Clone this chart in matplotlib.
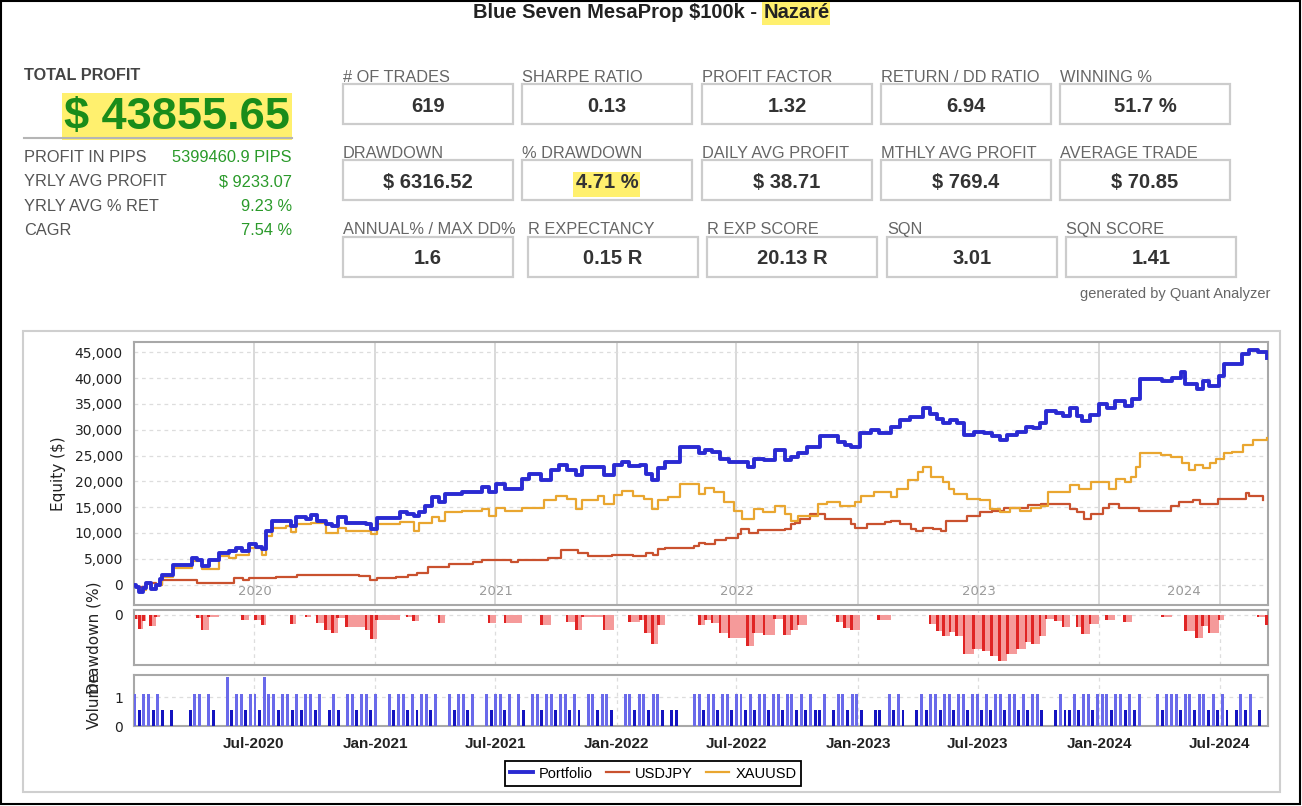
import matplotlib
matplotlib.use("Agg")
import matplotlib.pyplot as plt
import matplotlib.dates as mdates
from matplotlib.patches import Rectangle
from matplotlib.lines import Line2D
from matplotlib.ticker import FuncFormatter
import numpy as np
import pandas as pd

plt.rcParams['font.family'] = ['Liberation Sans', 'DejaVu Sans']

# ---- stats (from the report header) ----
title_main = "Blue Seven MesaProp $100k -"
title_name = "Nazaré"
total_profit = "$ 43855.65"
side_labels = ["PROFIT IN PIPS", "YRLY AVG PROFIT", "YRLY AVG % RET", "CAGR"]
side_values = ["5399460.9 PIPS", "$ 9233.07", "9.23 %", "7.54 %"]
box_labels = [
    ["# OF TRADES", "SHARPE RATIO", "PROFIT FACTOR", "RETURN / DD RATIO", "WINNING %"],
    ["DRAWDOWN", "% DRAWDOWN", "DAILY AVG PROFIT", "MTHLY AVG PROFIT", "AVERAGE TRADE"],
    ["ANNUAL% / MAX DD%", "R EXPECTANCY", "R EXP SCORE", "SQN", "SQN SCORE"],
]
box_values = [
    ["619", "0.13", "1.32", "6.94", "51.7 %"],
    ["$ 6316.52", "4.71 %", "$ 38.71", "$ 769.4", "$ 70.85"],
    ["1.6", "0.15 R", "20.13 R", "3.01", "1.41"],
]

# ---- equity curves ----
start_capital = 100000
port_dates = [
    '2020-01-02', '2020-01-05', '2020-01-10', '2020-01-16', '2020-01-20', '2020-01-27', '2020-02-04',
    '2020-02-10', '2020-02-14', '2020-03-01', '2020-03-30', '2020-04-07', '2020-04-14', '2020-04-24',
    '2020-05-09', '2020-05-24', '2020-06-04', '2020-06-14', '2020-06-24', '2020-07-04', '2020-07-14',
    '2020-07-19', '2020-07-29', '2020-08-27', '2020-09-03', '2020-09-18', '2020-09-26', '2020-10-05',
    '2020-10-18', '2020-10-28', '2020-11-05', '2020-11-18', '2020-12-18', '2020-12-26',
    '2021-01-03', '2021-02-08', '2021-02-18', '2021-02-28', '2021-03-08', '2021-03-17', '2021-03-28',
    '2021-04-07', '2021-04-17', '2021-05-12', '2021-06-12', '2021-06-22', '2021-07-02', '2021-07-16',
    '2021-08-11', '2021-08-21', '2021-09-09', '2021-09-24', '2021-10-06', '2021-10-18', '2021-11-01',
    '2021-11-10', '2021-12-13', '2021-12-28',
    '2022-01-09', '2022-01-20', '2022-02-06', '2022-02-14', '2022-02-24', '2022-03-05', '2022-03-15',
    '2022-04-06', '2022-05-06', '2022-05-15', '2022-05-25', '2022-06-06', '2022-06-20', '2022-07-18',
    '2022-07-27', '2022-08-12', '2022-08-28', '2022-09-12', '2022-09-22', '2022-10-02', '2022-10-16',
    '2022-11-04', '2022-12-01', '2022-12-12', '2022-12-22',
    '2023-01-04', '2023-01-20', '2023-02-01', '2023-02-20', '2023-03-05', '2023-03-20', '2023-04-09',
    '2023-04-20', '2023-05-01', '2023-05-10', '2023-05-20', '2023-05-30', '2023-06-10', '2023-06-25',
    '2023-07-10', '2023-07-22', '2023-08-03', '2023-08-15', '2023-08-30', '2023-09-12', '2023-09-22',
    '2023-10-03', '2023-10-12', '2023-10-27', '2023-11-07', '2023-11-18', '2023-11-28', '2023-12-06',
    '2023-12-18',
    '2024-01-01', '2024-01-12', '2024-01-25', '2024-02-08', '2024-02-20', '2024-03-03', '2024-04-05',
    '2024-04-20', '2024-05-03', '2024-05-10', '2024-05-27', '2024-06-05', '2024-06-15', '2024-06-30',
    '2024-07-08', '2024-08-04', '2024-08-15', '2024-08-28', '2024-09-10',
]
port_equity = [
    0, -450, -1400, -600, 200, -900, 0,
    1000, 1900, 3800, 5100, 4700, 3500, 4800,
    6100, 6400, 7100, 6500, 7900, 7300, 6800,
    10300, 12300, 11300, 13000, 12700, 13400, 12400,
    11700, 11300, 13000, 12000, 11700, 10700,
    12800, 14000, 13700, 13300, 14000, 15300, 16900,
    15900, 17500, 18000, 18900, 17900, 19500, 18500,
    20500, 21500, 20200, 22100, 23100, 22200, 21200,
    22800, 21200, 23100,
    23800, 22900, 23100, 21500, 20200, 22500, 23800,
    26700, 25400, 26000, 25700, 24400, 23800, 22800,
    24400, 24100, 26100, 24100, 24700, 25400, 26700,
    28700, 27700, 27000, 26700,
    29300, 30000, 29300, 30500, 31900, 32500, 34200,
    33000, 32000, 31300, 31900, 31300, 29000, 29600,
    29300, 28700, 28000, 29000, 29600, 30600, 30300,
    31300, 33600, 33300, 32600, 34200, 32600, 31600,
    32900,
    34900, 34200, 35600, 34600, 36000, 39800, 39500,
    40100, 41100, 38800, 37800, 39500, 38500, 40400,
    42700, 44700, 45400, 45000, 43900,
]

jpy_dates = [
    '2020-01-02', '2020-01-05', '2020-01-20', '2020-02-04', '2020-02-14', '2020-04-06', '2020-06-01',
    '2020-06-15', '2020-06-24', '2020-08-03', '2020-09-05', '2020-12-07', '2020-12-24',
    '2021-01-03', '2021-02-01', '2021-02-20', '2021-03-05', '2021-03-22', '2021-04-22', '2021-05-29',
    '2021-06-12', '2021-07-25', '2021-08-05', '2021-09-19', '2021-10-09', '2021-11-04', '2021-11-19',
    '2021-12-25',
    '2022-01-25', '2022-02-15', '2022-02-25', '2022-03-04', '2022-03-15', '2022-04-28', '2022-05-05',
    '2022-05-15', '2022-05-29', '2022-06-15', '2022-07-03', '2022-07-08', '2022-07-20', '2022-08-03',
    '2022-09-12', '2022-09-22', '2022-09-28', '2022-10-05', '2022-10-20', '2022-11-12', '2022-12-22',
    '2022-12-27',
    '2023-01-15', '2023-02-11', '2023-02-20', '2023-03-05', '2023-03-22', '2023-03-30', '2023-04-09',
    '2023-04-25', '2023-05-07', '2023-05-14', '2023-06-15', '2023-07-04', '2023-07-22', '2023-08-09',
    '2023-09-15', '2023-10-04', '2023-11-03', '2023-11-18', '2023-11-28', '2023-12-09', '2023-12-20',
    '2024-01-06', '2024-01-16', '2024-01-31', '2024-03-01', '2024-04-19', '2024-05-01', '2024-05-22',
    '2024-06-01', '2024-06-29', '2024-08-09', '2024-08-15', '2024-09-05',
]
jpy_equity = [
    0, -400, 200, 0, 900, 200, 1200,
    900, 1200, 1500, 1800, 1700, 900,
    1200, 1400, 1900, 2200, 3400, 4000, 4300,
    4800, 4300, 4800, 5100, 6600, 6100, 5500,
    5800,
    5600, 6100, 5800, 6800, 7100, 7500, 8000,
    7800, 8700, 9100, 9700, 10700, 10000, 10600,
    10800, 11700, 12000, 12700, 13600, 12700, 11700,
    11000,
    11700, 12200, 12300, 11700, 10700, 10400, 11000,
    10700, 10400, 12300, 13300, 14000, 14300, 14900,
    15400, 15700, 15600, 14600, 14000, 12700, 13600,
    14900, 15600, 14900, 14300, 15300, 15900, 16300,
    15600, 16600, 17700, 17200, 16300,
]

xau_dates = [
    '2020-01-02', '2020-01-05', '2020-01-10', '2020-01-20', '2020-01-27', '2020-02-04', '2020-02-14',
    '2020-03-01', '2020-03-30', '2020-04-14', '2020-05-09', '2020-05-24', '2020-06-04', '2020-06-24',
    '2020-07-14', '2020-07-19', '2020-07-29', '2020-08-19', '2020-08-27', '2020-09-03', '2020-09-26',
    '2020-10-18', '2020-11-05', '2020-11-18', '2020-12-26',
    '2021-01-03', '2021-02-08', '2021-02-28', '2021-03-08', '2021-03-28', '2021-04-07', '2021-04-17',
    '2021-05-12', '2021-06-12', '2021-06-22', '2021-07-02', '2021-07-16', '2021-08-11', '2021-09-13',
    '2021-10-01', '2021-10-18', '2021-11-01', '2021-11-10', '2021-12-04', '2021-12-13', '2021-12-28',
    '2022-01-09', '2022-01-25', '2022-02-11', '2022-02-24', '2022-03-05', '2022-03-20', '2022-04-06',
    '2022-05-06', '2022-05-15', '2022-05-28', '2022-06-13', '2022-06-28', '2022-07-10', '2022-07-27',
    '2022-08-10', '2022-08-29', '2022-09-12', '2022-09-22', '2022-10-02', '2022-11-01', '2022-11-15',
    '2022-12-05', '2022-12-27',
    '2023-01-06', '2023-01-25', '2023-02-20', '2023-03-01', '2023-03-18', '2023-04-01', '2023-04-09',
    '2023-04-22', '2023-05-10', '2023-05-18', '2023-05-26', '2023-06-15', '2023-07-04', '2023-07-20',
    '2023-08-04', '2023-08-19', '2023-09-03', '2023-09-19', '2023-10-04', '2023-10-15', '2023-11-18',
    '2023-12-01', '2023-12-20',
    '2024-01-16', '2024-01-26', '2024-02-08', '2024-02-18', '2024-02-25', '2024-03-03', '2024-04-03',
    '2024-04-19', '2024-05-05', '2024-05-15', '2024-05-25', '2024-06-06', '2024-06-16', '2024-06-26',
    '2024-07-07', '2024-07-20', '2024-08-05', '2024-08-20', '2024-09-10',
]
xau_equity = [
    0, -400, -1000, 100, -800, 0, 1500,
    3200, 4500, 3000, 5500, 5200, 5800, 7100,
    5800, 9400, 11000, 11300, 10200, 11700, 12000,
    10000, 11000, 10400, 9700,
    11700, 12100, 10400, 12000, 13000, 12300, 14000,
    14300, 14600, 13300, 14900, 14300, 14900, 16300,
    17200, 16600, 14600, 16300, 17200, 15600, 17400,
    18200, 17200, 16600, 14600, 16300, 16900, 19400,
    17600, 18800, 17900, 15900, 14300, 12700, 14600,
    14000, 15300, 13600, 12300, 13300, 15600, 15900,
    15300, 15900,
    17200, 17900, 16900, 18500, 20200, 21800, 22800,
    20800, 19800, 18500, 17600, 16600, 16300, 14600,
    14000, 14900, 14300, 14900, 15300, 17900, 19200,
    18500, 19800,
    18500, 20500, 19800, 20800, 22800, 25400, 25100,
    24700, 23500, 22100, 23100, 22500, 23500, 24400,
    25400, 25700, 27000, 28000, 28300,
]

# weekly traded lots (0 = no trade that week), weeks starting 2020-01-03
vol_start = '2020-01-03'
vol_week_lots = [
    1.1, 0.55, 1.1, 1.1, 0.55, 1.1, 0.55, 0, 0.55, 0,
    0, 0, 0.55, 1.1, 1.1, 0, 1.1, 0.55, 0, 0,
    1.7, 0.55, 1.1, 1.1, 0.55, 1.1, 1.1, 0.55, 1.7, 1.1,
    1.1, 0.55, 1.1, 1.1, 0.55, 1.1, 0.55, 1.1, 1.1, 0.55,
    1.1, 0, 0.55, 1.1, 0.55, 0, 1.1, 1.1, 0.55, 1.1,
    1.1, 0.55, 1.1, 0, 0, 1.1, 0.55, 1.1, 1.1, 0.55,
    1.1, 0.55, 1.1, 1.1, 0.55, 1.1, 0, 0, 1.1, 0.55,
    1.1, 1.1, 0.55, 1.1, 0, 0, 1.1, 0.55, 1.1, 1.1,
    0.55, 1.1, 0, 1.1, 0.55, 0, 1.1, 1.1, 0.55, 1.1,
    1.1, 0.55, 1.1, 1.1, 0.55, 1.1, 0.55, 0, 1.1, 1.1,
    0.55, 1.1, 1.1, 0.55, 0, 0, 1.1, 1.1, 0.55, 1.1,
    1.1, 0.55, 1.1, 1.1, 0.55, 0, 0.55, 0.55, 0, 0,
    0, 1.1, 1.1, 0.55, 1.1, 1.1, 0.55, 1.1, 1.1, 0.55,
    1.1, 1.1, 0.55, 1.1, 0.55, 1.1, 1.1, 0.55, 1.1, 1.1,
    0.55, 1.1, 1.1, 0.55, 1.1, 0.55, 1.1, 0.55, 0.55, 1.1,
    0, 0.55, 1.1, 1.1, 0.55, 1.1, 1.1, 0.55, 0, 0,
    0.55, 0.55, 0, 1.1, 0.55, 1.1, 0.55, 0, 0, 0.55,
    1.1, 0.55, 1.1, 1.1, 0.55, 1.1, 1.1, 0.55, 1.1, 1.1,
    0.55, 1.1, 1.1, 0.55, 1.1, 0.55, 1.1, 1.1, 0.55, 1.1,
    1.1, 0.55, 1.1, 0.55, 1.1, 1.1, 0.55, 0, 0, 0.55,
    1.1, 0.55, 0.55, 1.1, 0.55, 1.1, 1.1, 0.55, 1.1, 1.1,
    1.1, 0.55, 1.1, 1.1, 0.55, 1.1, 0.55, 1.1, 0, 0,
    0, 1.1, 0.55, 1.1, 1.1, 1.1, 0.55, 1.1, 1.1, 0.55,
    1.1, 1.1, 0.55, 1.1, 0.55, 1.1, 0.55, 0, 0.55, 1.1,
    0.55, 1.1, 0, 0.55, 0,
]

series_names = ["Portfolio", "USDJPY", "XAUUSD"]
series_colors = ["#2a2ad2", "#c9512e", "#e9a630"]

# ---- figure helpers (pixel layout) ----
W, H = 1302, 806
fig = plt.figure(figsize=(W / 100, H / 100), dpi=100)


def T(x, y, s, **kw):
    return fig.text(x / W, 1 - y / H, s, **kw)


def R(x0, y0, x1, y1, **kw):
    r = Rectangle((x0 / W, 1 - y1 / H), (x1 - x0) / W, (y1 - y0) / H,
                  transform=fig.transFigure, **kw)
    fig.add_artist(r)
    return r


# outer frame and chart panel frame
R(1, 1, 1300, 804, fill=False, ec='black', lw=1.5)
R(23, 331, 1280, 792, fill=False, ec='#cfcfcf', lw=1.5)

# title
T(757, 13, title_main, ha='right', va='center', fontsize=14.5, fontweight='bold', color='#222222')
R(762, 2, 830, 25, fc='#fff06e', ec='none')
T(764, 13, title_name, ha='left', va='center', fontsize=14.5, fontweight='bold', color='#222222')

# left summary
T(24, 76, "TOTAL PROFIT", ha='left', va='center', fontsize=11.7, fontweight='bold', color='#444444')
R(62, 93, 292, 140, fc='#fff06e', ec='none')
T(177, 117, total_profit, ha='center', va='center', fontsize=32.5, fontweight='bold', color='#1a8c1a')
fig.add_artist(Line2D([24 / W, 292 / W], [1 - 138 / H] * 2, color='#b5b5b5', lw=1.5))
for i, (lab, val) in enumerate(zip(side_labels, side_values)):
    y = 157 + i * 24.5
    T(24, y, lab, ha='left', va='center', fontsize=11.8, color='#555555')
    T(292, y, val, ha='right', va='center', fontsize=11.8, color='#2a9a2a')

# stat boxes
box_x = [[343, 522, 702, 881, 1060], [343, 522, 702, 881, 1060], [343, 528, 707, 887, 1066]]
box_y = [84, 160, 237]
for r in range(3):
    for c in range(5):
        x0, y0 = box_x[r][c], box_y[r]
        R(x0, y0, x0 + 170, y0 + 40, fill=False, ec='#cccccc', lw=1.6)
        T(x0, y0 - 7, box_labels[r][c], ha='left', va='center', fontsize=11.8, color='#666666')
        val = box_values[r][c]
        if val == "4.71 %":
            R(x0 + 51, y0 + 12, x0 + 118, y0 + 37, fc='#fff06e', ec='none')
        T(x0 + 85, y0 + 22, val, ha='center', va='center', fontsize=14.5, fontweight='bold', color='#333333')

T(1270, 294, "generated by Quant Analyzer", ha='right', va='center', fontsize=10.5, color='#666666')

# ---- chart axes ----
ax = fig.add_axes([134 / W, 1 - 605 / H, (1268 - 134) / W, (605 - 342) / H])
ax_dd = fig.add_axes([134 / W, 1 - 665 / H, (1268 - 134) / W, (665 - 610) / H], sharex=ax)
ax_vol = fig.add_axes([134 / W, 1 - 726 / H, (1268 - 134) / W, (726 - 675) / H], sharex=ax)

pd_port = pd.to_datetime(port_dates)
pd_jpy = pd.to_datetime(jpy_dates)
pd_xau = pd.to_datetime(xau_dates)

ax.step(pd_jpy, jpy_equity, where='post', color=series_colors[1], lw=1.6, zorder=3)
ax.step(pd_xau, xau_equity, where='post', color=series_colors[2], lw=1.6, zorder=3)
ax.step(pd_port, port_equity, where='post', color=series_colors[0], lw=2.8, zorder=4)

xmin, xmax = pd.Timestamp('2020-01-02'), pd.Timestamp('2024-09-12')
ax.set_xlim(xmin, xmax)
ax.set_ylim(-3970, 47000)
ax.set_yticks(range(0, 45001, 5000))
ax.yaxis.set_major_formatter(FuncFormatter(lambda v, p: f"{v:,.0f}"))
ax.xaxis.set_major_locator(mdates.YearLocator())
ax.xaxis.set_minor_locator(mdates.MonthLocator(bymonth=7))
ax.grid(True, which='major', axis='x', color='#d3d3d3', lw=1.2, ls='-')
ax.grid(True, which='minor', axis='x', color='#dddddd', lw=0.9, ls=(0, (3, 3)))
ax.grid(True, which='major', axis='y', color='#dddddd', lw=0.9, ls=(0, (3, 3)))
ax.tick_params(axis='x', which='both', length=0, labelbottom=False)
ax.set_ylabel("Equity ($)", fontsize=11, family='DejaVu Sans', color='#222222', labelpad=6)

for yr in range(2020, 2025):
    a = max(pd.Timestamp(f'{yr}-01-01'), xmin)
    b = min(pd.Timestamp(f'{yr + 1}-01-01'), xmax)
    mid = a + (b - a) / 2
    ax.text(mid, 0.052, str(yr), transform=ax.get_xaxis_transform(), ha='center', va='center',
            fontsize=9.5, color='#9a9a9a', family='DejaVu Sans')

# drawdown derived from the portfolio curve
eq = np.array(port_equity, dtype=float)
peak = np.maximum.accumulate(eq)
dd = (eq - peak) / (start_capital + peak) * 100
ax_dd.fill_between(pd_port, dd, 0, step='post', color='#f59a9a', lw=0, zorder=2)
ax_dd.bar(pd_port, dd, width=4, color='#e02424', edgecolor='none', zorder=3)
ax_dd.set_ylim(-5.0, 0.45)
ax_dd.set_yticks([0])
ax_dd.set_ylabel("Drawdown (%)", fontsize=11, family='DejaVu Sans', color='#222222', labelpad=9)

# volume (weekly)
vol_dates = pd.date_range(vol_start, periods=len(vol_week_lots), freq='7D')
vol_colors = ['#6a6aea' if v > 0.6 else '#1414c0' for v in vol_week_lots]
ax_vol.bar(vol_dates, vol_week_lots, width=4.5, color=vol_colors, edgecolor='none', zorder=3)
ax_vol.set_ylim(0, 1.76)
ax_vol.set_yticks([0, 1])
ax_vol.set_ylabel("Volume", fontsize=11, family='DejaVu Sans', color='#222222', labelpad=9)

for a in (ax_dd, ax_vol):
    a.xaxis.set_major_locator(mdates.MonthLocator(bymonth=[1, 7]))
    a.grid(True, which='major', axis='both', color='#dddddd', lw=0.9, ls=(0, (3, 3)))
    a.tick_params(axis='x', length=0)
ax_dd.tick_params(axis='x', labelbottom=False)
ax_vol.xaxis.set_major_formatter(mdates.DateFormatter('%b-%Y'))
ax_vol.tick_params(axis='x', pad=8)
for lbl in ax_vol.get_xticklabels():
    lbl.set_fontweight('bold')
    lbl.set_fontsize(11)
    lbl.set_color('#222222')

for a in (ax, ax_dd, ax_vol):
    a.set_axisbelow(True)
    for s in a.spines.values():
        s.set_color('#a8a8a8')
        s.set_linewidth(1.5)
    a.tick_params(axis='y', length=0, pad=8, labelsize=10, labelcolor='#222222')
    for lbl in a.get_yticklabels():
        lbl.set_family('DejaVu Sans')

handles = [Line2D([], [], color=c, lw=(2.8 if i == 0 else 1.6)) for i, c in enumerate(series_colors)]
leg = fig.legend(handles, series_names, loc='center', bbox_to_anchor=(653 / W, 1 - 773.5 / H),
                 ncol=3, fontsize=10.5, frameon=True, fancybox=False, framealpha=1,
                 edgecolor='black', borderpad=0.35, handlelength=1.6, handletextpad=0.4,
                 columnspacing=0.9)
leg.get_frame().set_linewidth(1.3)

fig.savefig('out.png', dpi=100)
